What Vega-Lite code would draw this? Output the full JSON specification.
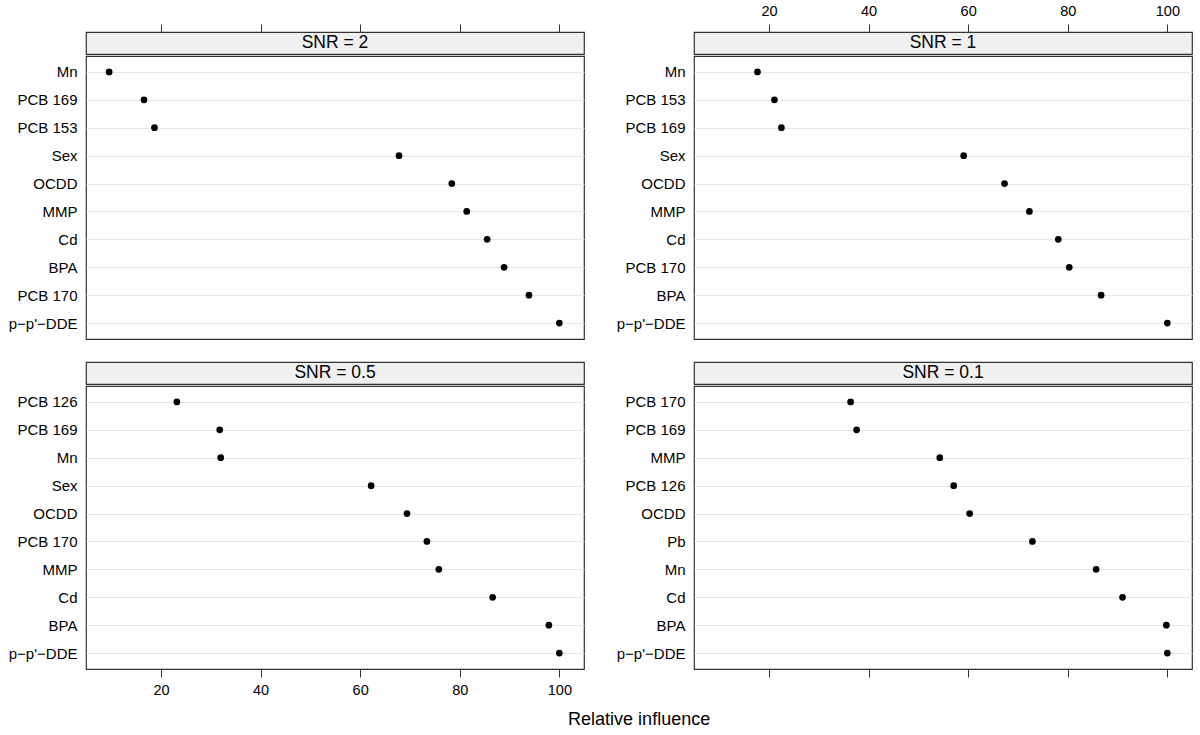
{
  "$schema": "https://vega.github.io/schema/vega-lite/v6.json",
  "background": "white",
  "padding": {"left": 7, "top": 2, "right": 5, "bottom": 5},
  "datasets": {
    "rel": [
      {"panel": "SNR = 2", "var": "Mn", "value": 9.6},
      {"panel": "SNR = 2", "var": "PCB 169", "value": 16.6},
      {"panel": "SNR = 2", "var": "PCB 153", "value": 18.7},
      {"panel": "SNR = 2", "var": "Sex", "value": 67.8},
      {"panel": "SNR = 2", "var": "OCDD", "value": 78.4},
      {"panel": "SNR = 2", "var": "MMP", "value": 81.4},
      {"panel": "SNR = 2", "var": "Cd", "value": 85.5},
      {"panel": "SNR = 2", "var": "BPA", "value": 88.9},
      {"panel": "SNR = 2", "var": "PCB 170", "value": 93.9},
      {"panel": "SNR = 2", "var": "p−p'−DDE", "value": 100},
      {"panel": "SNR = 1", "var": "Mn", "value": 17.7},
      {"panel": "SNR = 1", "var": "PCB 153", "value": 21.1},
      {"panel": "SNR = 1", "var": "PCB 169", "value": 22.5},
      {"panel": "SNR = 1", "var": "Sex", "value": 59.1},
      {"panel": "SNR = 1", "var": "OCDD", "value": 67.3},
      {"panel": "SNR = 1", "var": "MMP", "value": 72.3},
      {"panel": "SNR = 1", "var": "Cd", "value": 78.1},
      {"panel": "SNR = 1", "var": "PCB 170", "value": 80.3},
      {"panel": "SNR = 1", "var": "BPA", "value": 86.7},
      {"panel": "SNR = 1", "var": "p−p'−DDE", "value": 100},
      {"panel": "SNR = 0.5", "var": "PCB 126", "value": 23.2},
      {"panel": "SNR = 0.5", "var": "PCB 169", "value": 31.8},
      {"panel": "SNR = 0.5", "var": "Mn", "value": 32.0},
      {"panel": "SNR = 0.5", "var": "Sex", "value": 62.2},
      {"panel": "SNR = 0.5", "var": "OCDD", "value": 69.4},
      {"panel": "SNR = 0.5", "var": "PCB 170", "value": 73.4},
      {"panel": "SNR = 0.5", "var": "MMP", "value": 75.8},
      {"panel": "SNR = 0.5", "var": "Cd", "value": 86.6},
      {"panel": "SNR = 0.5", "var": "BPA", "value": 97.9},
      {"panel": "SNR = 0.5", "var": "p−p'−DDE", "value": 100},
      {"panel": "SNR = 0.1", "var": "PCB 170", "value": 36.4},
      {"panel": "SNR = 0.1", "var": "PCB 169", "value": 37.6},
      {"panel": "SNR = 0.1", "var": "MMP", "value": 54.3},
      {"panel": "SNR = 0.1", "var": "PCB 126", "value": 57.1},
      {"panel": "SNR = 0.1", "var": "OCDD", "value": 60.3},
      {"panel": "SNR = 0.1", "var": "Pb", "value": 72.9},
      {"panel": "SNR = 0.1", "var": "Mn", "value": 85.7},
      {"panel": "SNR = 0.1", "var": "Cd", "value": 91.0},
      {"panel": "SNR = 0.1", "var": "BPA", "value": 99.8},
      {"panel": "SNR = 0.1", "var": "p−p'−DDE", "value": 100}
    ]
  },
  "title": {"text": "Relative influence", "orient": "bottom", "fontSize": 18, "fontWeight": "normal", "color": "#000", "font": "Liberation Sans", "anchor": "middle", "dx": 39, "offset": 14},
  "spacing": 21,
  "vconcat": [
    {
      "hconcat": [
        {
          "spacing": 0,
          "vconcat": [
            {
              "width": 498, "height": 22,
              "view": {"fill": "#f0f0f0", "stroke": "#333", "strokeWidth": 1.2},
              "data": {"name": "rel"},
              "transform": [{"filter": "datum.panel === 'SNR = 2'"}, {"aggregate": [{"op": "count", "as": "n"}], "groupby": ["panel"]}],
              "mark": {"type": "text", "fontSize": 17.5, "color": "#000", "font": "Liberation Sans", "baseline": "middle"},
              "encoding": {
                "x": {"datum": 54.95, "type": "quantitative", "scale": {"domain": [4.95, 104.95], "nice": false, "zero": false},
                  "axis": {"orient": "top", "values": [20, 40, 60, 80, 100], "labels": false, "domain": false, "grid": false, "tickSize": 8, "tickColor": "#333", "title": null}},
                "text": {"field": "panel"}
              }
            },
            {
              "width": 498, "height": 283,
              "view": {"stroke": "#333", "strokeWidth": 1.2},
              "data": {"name": "rel"},
              "transform": [{"filter": "datum.panel === 'SNR = 2'"}],
              "mark": {"type": "circle", "size": 45, "color": "#000", "opacity": 1},
              "encoding": {
                "x": {"field": "value", "type": "quantitative", "scale": {"domain": [4.95, 104.95], "nice": false, "zero": false}, "axis": null},
                "y": {"field": "var", "type": "nominal", "sort": "x", "scale": {"type": "point", "padding": 0.57},
                  "axis": {"title": null, "ticks": false, "domain": false, "grid": true, "gridColor": "#e6e6e6", "labelFontSize": 15, "labelPadding": 9, "labelColor": "#000", "labelFont": "Liberation Sans"}}
              }
            }
          ]
        },
        {
          "spacing": 0,
          "vconcat": [
            {
              "width": 498, "height": 22,
              "view": {"fill": "#f0f0f0", "stroke": "#333", "strokeWidth": 1.2},
              "data": {"name": "rel"},
              "transform": [{"filter": "datum.panel === 'SNR = 1'"}, {"aggregate": [{"op": "count", "as": "n"}], "groupby": ["panel"]}],
              "mark": {"type": "text", "fontSize": 17.5, "color": "#000", "font": "Liberation Sans", "baseline": "middle"},
              "encoding": {
                "x": {"datum": 54.95, "type": "quantitative", "scale": {"domain": [4.95, 104.95], "nice": false, "zero": false},
                  "axis": {"orient": "top", "values": [20, 40, 60, 80, 100], "labels": true, "labelFontSize": 14.5, "labelColor": "#000", "labelFont": "Liberation Sans", "labelPadding": 6, "domain": false, "grid": false, "tickSize": 8, "tickColor": "#333", "title": null}},
                "text": {"field": "panel"}
              }
            },
            {
              "width": 498, "height": 283,
              "view": {"stroke": "#333", "strokeWidth": 1.2},
              "data": {"name": "rel"},
              "transform": [{"filter": "datum.panel === 'SNR = 1'"}],
              "mark": {"type": "circle", "size": 45, "color": "#000", "opacity": 1},
              "encoding": {
                "x": {"field": "value", "type": "quantitative", "scale": {"domain": [4.95, 104.95], "nice": false, "zero": false}, "axis": null},
                "y": {"field": "var", "type": "nominal", "sort": "x", "scale": {"type": "point", "padding": 0.57},
                  "axis": {"title": null, "ticks": false, "domain": false, "grid": true, "gridColor": "#e6e6e6", "labelFontSize": 15, "labelPadding": 9, "labelColor": "#000", "labelFont": "Liberation Sans"}}
              }
            }
          ]
        }
      ],
      "spacing": 30
    },
    {
      "hconcat": [
        {
          "spacing": 0,
          "vconcat": [
            {
              "width": 498, "height": 22,
              "view": {"fill": "#f0f0f0", "stroke": "#333", "strokeWidth": 1.2},
              "data": {"name": "rel"},
              "transform": [{"filter": "datum.panel === 'SNR = 0.5'"}, {"aggregate": [{"op": "count", "as": "n"}], "groupby": ["panel"]}],
              "mark": {"type": "text", "fontSize": 17.5, "color": "#000", "font": "Liberation Sans", "baseline": "middle"},
              "encoding": {
                "x": {"datum": 54.95, "type": "quantitative", "scale": {"domain": [4.95, 104.95], "nice": false, "zero": false}, "axis": null},
                "text": {"field": "panel"}
              }
            },
            {
              "width": 498, "height": 283,
              "view": {"stroke": "#333", "strokeWidth": 1.2},
              "data": {"name": "rel"},
              "transform": [{"filter": "datum.panel === 'SNR = 0.5'"}],
              "mark": {"type": "circle", "size": 45, "color": "#000", "opacity": 1},
              "encoding": {
                "x": {"field": "value", "type": "quantitative", "scale": {"domain": [4.95, 104.95], "nice": false, "zero": false},
                  "axis": {"orient": "bottom", "values": [20, 40, 60, 80, 100], "labels": true, "labelFontSize": 14.5, "labelColor": "#000", "labelFont": "Liberation Sans", "labelPadding": 6, "domain": false, "grid": false, "tickSize": 8, "tickColor": "#333", "title": null}},
                "y": {"field": "var", "type": "nominal", "sort": "x", "scale": {"type": "point", "padding": 0.57},
                  "axis": {"title": null, "ticks": false, "domain": false, "grid": true, "gridColor": "#e6e6e6", "labelFontSize": 15, "labelPadding": 9, "labelColor": "#000", "labelFont": "Liberation Sans"}}
              }
            }
          ]
        },
        {
          "spacing": 0,
          "vconcat": [
            {
              "width": 498, "height": 22,
              "view": {"fill": "#f0f0f0", "stroke": "#333", "strokeWidth": 1.2},
              "data": {"name": "rel"},
              "transform": [{"filter": "datum.panel === 'SNR = 0.1'"}, {"aggregate": [{"op": "count", "as": "n"}], "groupby": ["panel"]}],
              "mark": {"type": "text", "fontSize": 17.5, "color": "#000", "font": "Liberation Sans", "baseline": "middle"},
              "encoding": {
                "x": {"datum": 54.95, "type": "quantitative", "scale": {"domain": [4.95, 104.95], "nice": false, "zero": false}, "axis": null},
                "text": {"field": "panel"}
              }
            },
            {
              "width": 498, "height": 283,
              "view": {"stroke": "#333", "strokeWidth": 1.2},
              "data": {"name": "rel"},
              "transform": [{"filter": "datum.panel === 'SNR = 0.1'"}],
              "mark": {"type": "circle", "size": 45, "color": "#000", "opacity": 1},
              "encoding": {
                "x": {"field": "value", "type": "quantitative", "scale": {"domain": [4.95, 104.95], "nice": false, "zero": false},
                  "axis": {"orient": "bottom", "values": [20, 40, 60, 80, 100], "labels": false, "domain": false, "grid": false, "tickSize": 8, "tickColor": "#333", "title": null}},
                "y": {"field": "var", "type": "nominal", "sort": "x", "scale": {"type": "point", "padding": 0.57},
                  "axis": {"title": null, "ticks": false, "domain": false, "grid": true, "gridColor": "#e6e6e6", "labelFontSize": 15, "labelPadding": 9, "labelColor": "#000", "labelFont": "Liberation Sans"}}
              }
            }
          ]
        }
      ],
      "spacing": 30
    }
  ],
  "config": {
    "font": "Liberation Sans",
    "axis": {"tickWidth": 1}
  }
}
